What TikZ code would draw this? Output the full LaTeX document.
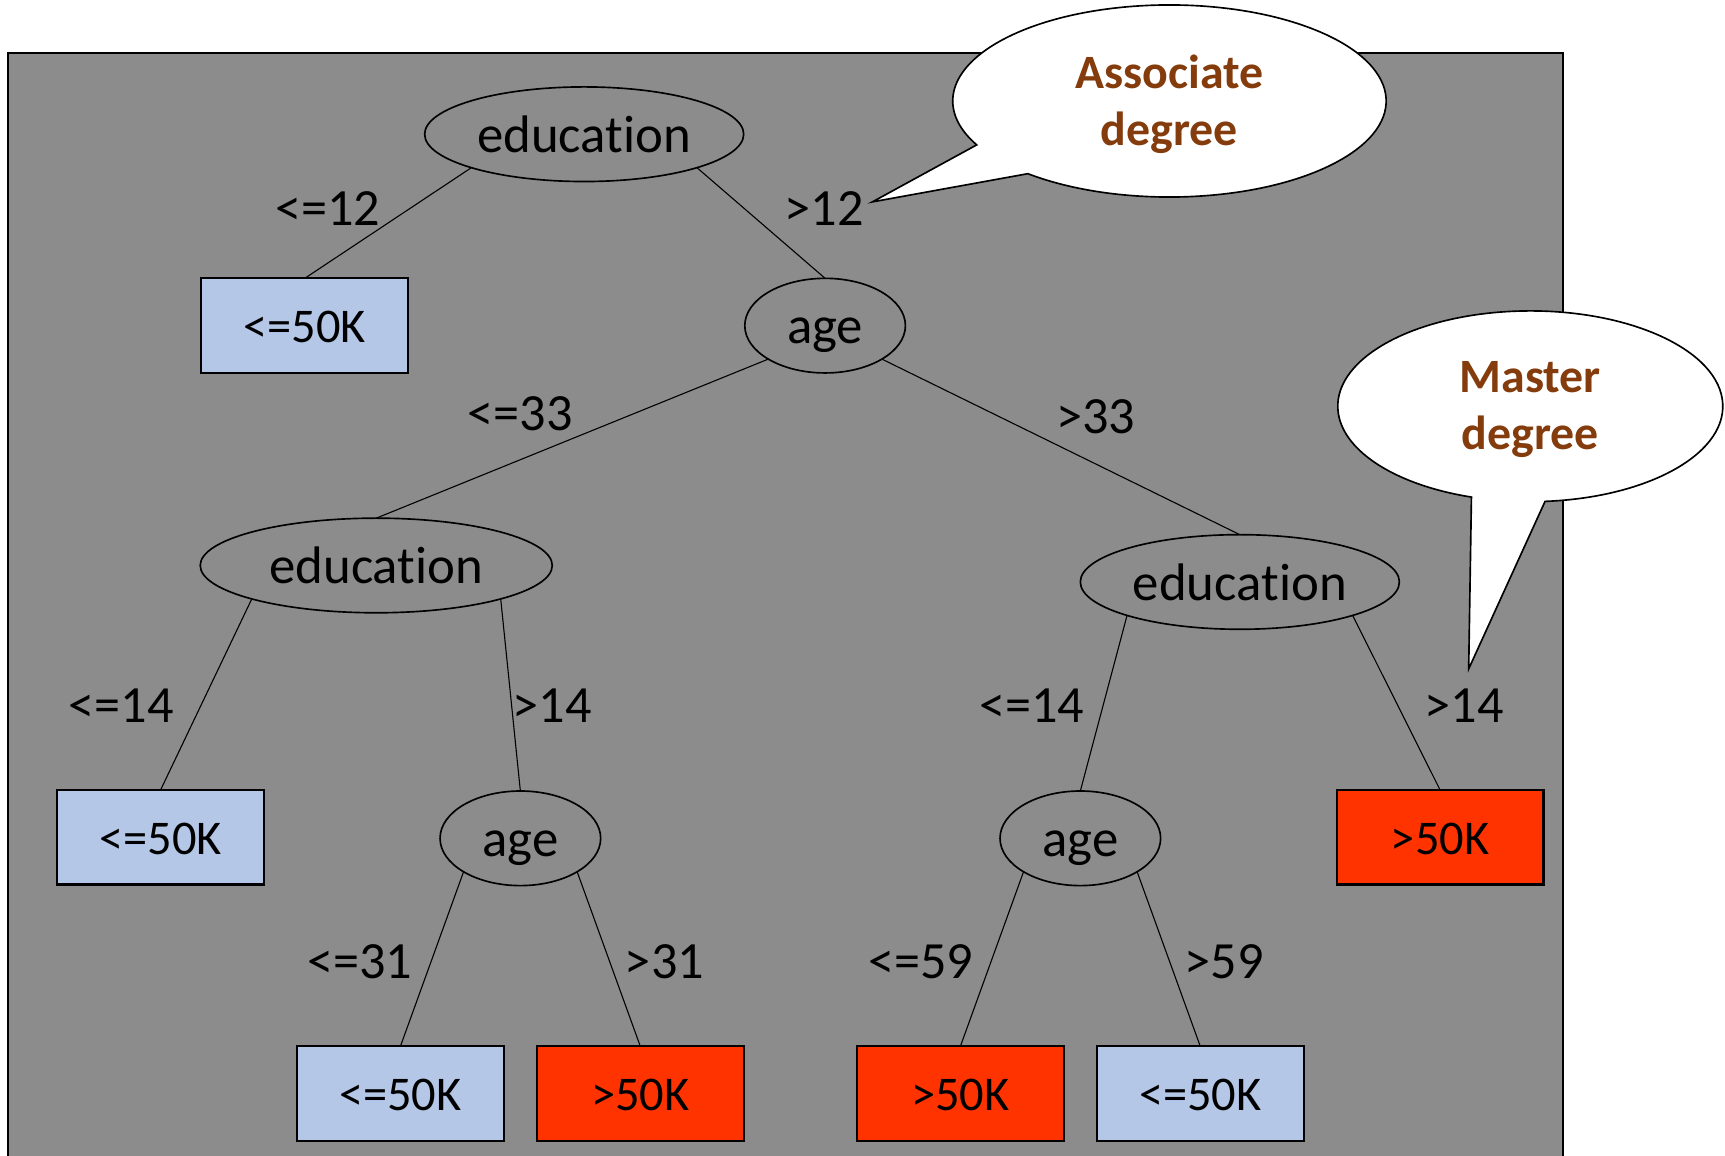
\documentclass[tikz,border=0pt]{standalone}
\usepackage{fontspec}
\setmainfont{Carlito}[Ligatures=NoCommon]
\usetikzlibrary{shapes.geometric,calc}
\definecolor{panelgray}{RGB}{140,140,140}
\definecolor{lowblue}{RGB}{180,199,231}
\definecolor{highred}{RGB}{255,51,0}
\definecolor{notebrown}{RGB}{132,60,12}
\begin{document}
\begin{tikzpicture}[x=1pt,y=-1pt,
  split/.style={ellipse, draw=black, line width=1.5pt, inner sep=0pt, outer sep=0pt,
    text height=33.2pt, text depth=0pt, font=\fontsize{48}{58}\selectfont},
  edusplit/.style={split, minimum width=290pt, minimum height=86pt},
  agesplit/.style={split, minimum width=146pt, minimum height=86pt},
  leaf/.style={rectangle, draw=black, line width=2pt, inner sep=0pt, outer sep=0pt,
    minimum width=188pt, minimum height=86pt, text height=30.8pt, text depth=0pt,
    font=\fontsize{44}{53}\selectfont},
  lowleaf/.style={leaf, fill=lowblue},
  highleaf/.style={leaf, fill=highred},
  branch/.style={draw=black, line width=1pt},
  cond/.style={font=\fontsize{47.5}{57}\selectfont, inner sep=0pt},
  bubble/.style={draw=black, line width=1.5pt, fill=white, line join=miter},
  notetext/.style={font=\fontsize{43.5}{51.5}\selectfont\bfseries, text=notebrown,
    align=center, inner sep=0pt},
]
\useasboundingbox (0,0) rectangle (1568,1050);
\begin{scope}
\clip (0,0) rectangle (1568,1050);
% panel behind the tree
\draw[fill=panelgray, line width=2pt] (7.5,48.5) rectangle (1421,1080);

% split nodes
\node[edusplit] (edu1) at (531,122) {education};
\node[agesplit] (age1) at (750,296) {age};
\node[edusplit, minimum width=320pt] (edu2) at (342,514) {education};
\node[edusplit] (edu3) at (1127,529) {education};
\node[agesplit] (age2) at (473,762) {age};
\node[agesplit] (age3) at (982,762) {age};

% leaves
\node[lowleaf]  (leafA) at (277,296) {<=50K};
\node[lowleaf]  (leafB) at (146,761) {<=50K};
\node[highleaf] (leafC) at (1309,761) {>50K};
\node[lowleaf]  (leafD) at (364,994) {<=50K};
\node[highleaf] (leafE) at (582,994) {>50K};
\node[highleaf] (leafF) at (873,994) {>50K};
\node[lowleaf]  (leafG) at (1091,994) {<=50K};

% branches
\draw[branch] (edu1.south west) -- (leafA.north);
\draw[branch] (edu1.south east) -- (age1.north);
\draw[branch] (age1.south west) -- (edu2.north);
\draw[branch] (age1.south east) -- (edu3.north);
\draw[branch] (edu2.south west) -- (leafB.north);
\draw[branch] (edu2.south east) -- (age2.north);
\draw[branch] (edu3.south west) -- (age3.north);
\draw[branch] (edu3.south east) -- (leafC.north);
\draw[branch] (age2.south west) -- (leafD.north);
\draw[branch] (age2.south east) -- (leafE.north);
\draw[branch] (age3.south west) -- (leafF.north);
\draw[branch] (age3.south east) -- (leafG.north);

% branch conditions
\node[cond] (c1)  at (298,190) {<=12};
\node[cond] (c2)  at (749,190) {>12};
\node[cond] (c3)  at (473,376) {<=33};
\node[cond] (c4)  at (996,379) {>33};
\node[cond] (c5)  at (110,641) {<=14};
\node[cond] (c6)  at (502,641) {>14};
\node[cond] (c7)  at (938,641) {<=14};
\node[cond] (c8)  at (1331,641) {>14};
\node[cond] (c9)  at (327,874) {<=31};
\node[cond] (c10) at (604,874) {>31};
\node[cond] (c11) at (837,874) {<=59};
\node[cond] (c12) at (1113,874) {>59};

% speech bubbles
\coordinate (assocC) at (1063,91.8);
\coordinate (assocTip) at (793,183.5);
\draw[bubble] ($(assocC)+(229.2:197pt and 87.3pt)$)
  arc[start angle=229.2, end angle=567.2, x radius=197pt, y radius=87.3pt]
  -- (assocTip) -- cycle;
\node[notetext] (assoc) at ($(assocC)+(0,3)$) {Associate\\degree};

\coordinate (masterC) at (1391,369.3);
\coordinate (masterTip) at (1335,608);
\draw[bubble] ($(masterC)+(274.4:175pt and 86.7pt)$)
  arc[start angle=274.4, end angle=612.2, x radius=175pt, y radius=86.7pt]
  -- (masterTip) -- cycle;
\node[notetext] (master) at ($(masterC)+(0,3)$) {Master\\degree};
\end{scope}
\end{tikzpicture}
\end{document}
